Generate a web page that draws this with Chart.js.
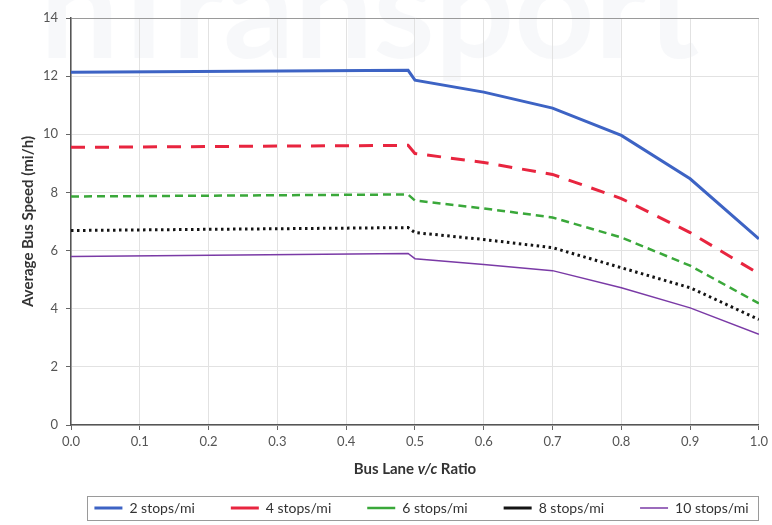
<!DOCTYPE html>
<html>
<head>
<meta charset="utf-8">
<script src="https://cdn.jsdelivr.net/npm/chart.js@4/dist/chart.umd.min.js"></script>
<style>
  html, body { margin: 0; padding: 0; background: #fff; }
  #wrap { width: 772px; height: 525px; }
</style>
</head>
<body>
<div id="wrap"><canvas id="busSpeedChart" width="772" height="525"></canvas></div>
<script>
// bus lane v/c ratio (x) and average bus speed in mi/h for each stop density
const vcRatio = [0.0, 0.49, 0.50, 0.6, 0.7, 0.8, 0.9, 1.0];
const stops2 = [12.13, 12.20, 11.86, 11.45, 10.90, 9.96, 8.47, 6.40];
const stops4 = [9.55, 9.62, 9.34, 9.03, 8.62, 7.79, 6.62, 5.20];
const stops6 = [7.86, 7.93, 7.72, 7.45, 7.14, 6.45, 5.48, 4.18];
const stops8 = [6.69, 6.79, 6.62, 6.38, 6.10, 5.41, 4.72, 3.63];
const stops10 = [5.80, 5.90, 5.72, 5.52, 5.31, 4.72, 4.03, 3.12];
const seriesLabels = ['2 stops/mi', '4 stops/mi', '6 stops/mi', '8 stops/mi', '10 stops/mi'];

const FONT = 'Lato, "Open Sans", sans-serif';
const LEGEND_SHIFT = 42;

function toPoints(ys) {
    return vcRatio.map((x, i) => ({ x: x, y: ys[i] }));
}

// watermark, x axis title (with italic v/c) and the frame around the legend
const extras = {
    id: 'extras',
    afterLayout(chart) {
        // legend sits a bit right of centre
        chart.legend.left += LEGEND_SHIFT;
        chart.legend.right += LEGEND_SHIFT;
    },
    beforeDraw(chart) {
        const ctx = chart.ctx;
        ctx.save();
        ctx.fillStyle = 'rgba(232,236,241,0.35)';
        ctx.font = 'bold 140px ' + FONT;
        ctx.textBaseline = 'alphabetic';
        ctx.fillText('nTransport', 40, 58);
        ctx.restore();
    },
    afterDraw(chart) {
        const ctx = chart.ctx;
        const area = chart.chartArea;
        ctx.save();
        // x axis title
        const parts = [
            { t: 'Bus Lane ', f: 'bold 15px ' + FONT },
            { t: 'v/c', f: 'italic bold 15px ' + FONT },
            { t: ' Ratio', f: 'bold 15px ' + FONT }
        ];
        let total = 0;
        parts.forEach(p => { ctx.font = p.f; p.w = ctx.measureText(p.t).width; total += p.w; });
        let x = (area.left + area.right) / 2 - total / 2;
        ctx.fillStyle = '#333';
        ctx.textBaseline = 'middle';
        parts.forEach(p => { ctx.font = p.f; ctx.fillText(p.t, x, 469); x += p.w; });

        // legend frame
        const boxes = chart.legend.legendHitBoxes;
        if (boxes && boxes.length) {
            const first = boxes[0], last = boxes[boxes.length - 1];
            const l = first.left - 7, r = last.left + last.width + 10;
            const top = first.top - 5, bottom = first.top + first.height + 5;
            ctx.strokeStyle = '#9a9a9a';
            ctx.lineWidth = 1;
            ctx.strokeRect(Math.round(l) + 0.5, Math.round(top) + 0.5, Math.round(r - l), Math.round(bottom - top));
        }
        ctx.restore();
    }
};

const ctx = document.getElementById('busSpeedChart').getContext('2d');

const busSpeedChart = new Chart(ctx, {
    type: 'line',
    data: {
        datasets: [
            {
                label: seriesLabels[0],
                data: toPoints(stops2),
                borderColor: '#3d63c4',
                backgroundColor: '#3d63c4',
                borderWidth: 3,
            },
            {
                label: seriesLabels[1],
                data: toPoints(stops4),
                borderColor: '#e8253f',
                backgroundColor: '#e8253f',
                borderWidth: 3,
                borderDash: [14, 10],
            },
            {
                label: seriesLabels[2],
                data: toPoints(stops6),
                borderColor: '#3aa83a',
                backgroundColor: '#3aa83a',
                borderWidth: 2.5,
                borderDash: [8, 5],
            },
            {
                label: seriesLabels[3],
                data: toPoints(stops8),
                borderColor: '#141414',
                backgroundColor: '#141414',
                borderWidth: 3,
                borderDash: [2.5, 3.5],
            },
            {
                label: seriesLabels[4],
                data: toPoints(stops10),
                borderColor: '#7a3aa6',
                backgroundColor: '#7a3aa6',
                borderWidth: 1.5,
            }
        ]
    },
    options: {
        responsive: false,
        animation: false,
        elements: {
            point: { radius: 0 },
            line: { tension: 0, fill: false }
        },
        layout: {
            padding: { left: 0, right: 13, top: 18, bottom: 0 }
        },
        scales: {
            x: {
                type: 'linear',
                min: 0,
                max: 1,
                afterFit: s => { s.height = 40; },
                ticks: {
                    stepSize: 0.1,
                    callback: v => Number(v).toFixed(1),
                    color: '#555',
                    font: { family: FONT, size: 13 },
                    padding: 4,
                    maxRotation: 0
                },
                grid: {
                    color: '#e2e2e2',
                    tickColor: '#666',
                    tickLength: 5
                },
                border: { color: '#555', width: 1.5 }
            },
            y: {
                min: 0,
                max: 14,
                afterFit: s => { s.width = 71; },
                ticks: {
                    stepSize: 2,
                    color: '#555',
                    font: { family: FONT, size: 13 },
                    padding: 8
                },
                grid: {
                    color: ctx => ctx.tick && ctx.tick.value === 14 ? '#9a9a9a' : '#e2e2e2',
                    tickColor: '#666',
                    tickLength: 5
                },
                border: { color: '#555', width: 1.5 },
                title: {
                    display: true,
                    text: 'Average Bus Speed (mi/h)',
                    color: '#333',
                    font: { family: FONT, size: 15, weight: 'bold' },
                    padding: { top: 19, bottom: 4 }
                }
            }
        },
        plugins: {
            legend: {
                display: true,
                position: 'bottom',
                labels: {
                    usePointStyle: true,
                    pointStyle: 'line',
                    pointStyleWidth: 28,
                    boxHeight: 10,
                    padding: 36,
                    color: '#333',
                    font: { family: FONT, size: 14 }
                }
            },
            tooltip: { enabled: false }
        }
    },
    plugins: [extras]
});
</script>
</body>
</html>
